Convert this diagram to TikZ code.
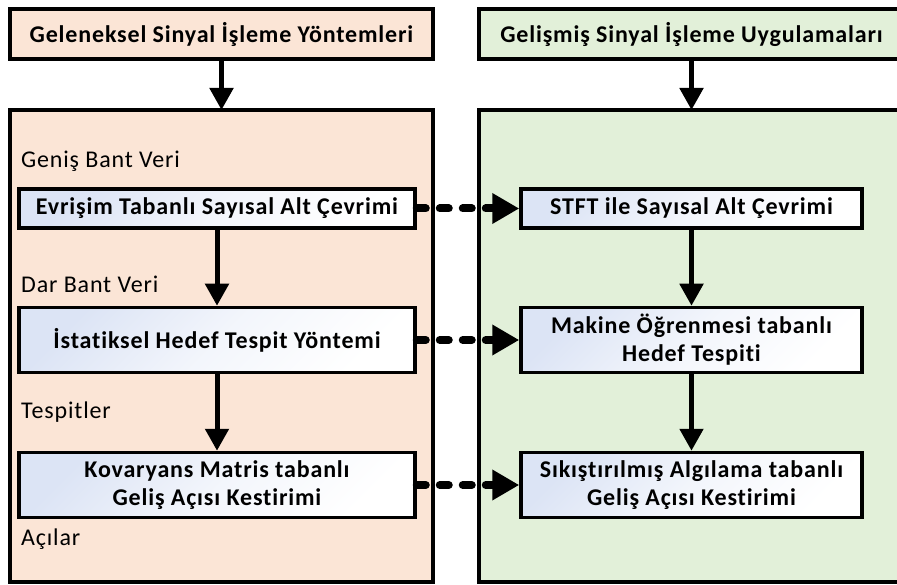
\documentclass[tikz,border=0pt]{standalone}
\usepackage{fontspec}
\setmainfont{Carlito}[LetterSpace=3.5, Ligatures=NoCommon]
\usetikzlibrary{arrows.meta}

\definecolor{peach}{RGB}{251,229,214}
\definecolor{sage}{RGB}{226,240,217}
\definecolor{paleblue}{RGB}{220,228,245}

\begin{document}
\begin{tikzpicture}[x=1pt,y=-1pt,
  panel/.style={draw, line width=3.3pt, inner sep=0pt, outer sep=0pt},
  header/.style={panel, font=\bfseries\fontsize{24}{28}\selectfont},
  stepbox/.style={draw, line width=3.5pt, top color=paleblue, bottom color=white,
    middle color=white!65!paleblue, shading angle=45, inner sep=0pt, align=center,
    font=\bfseries\fontsize{24}{28}\selectfont},
  tag/.style={anchor=base west, inner sep=0pt, font=\fontsize{24}{28}\selectfont},
  flow/.style={line width=5pt, -{Triangle[length=22pt,width=23pt]}},
  link/.style={line width=8pt, dash pattern=on 9pt off 14pt, line cap=round,
    -{Triangle[length=27pt,width=29pt]}}
]
\useasboundingbox (0,0) rectangle (897,585);
\clip (0,0) rectangle (897,585);

% column headers
\node[header, fill=peach, minimum width=423pt, minimum height=50pt] (hl) at (221.5,34) {Geleneksel Sinyal İşleme Yöntemleri};
\node[header, fill=sage, minimum width=425pt, minimum height=50pt] (hr) at (691.5,34) {Gelişmiş Sinyal İşleme Uygulamaları};

% column panels
\node[panel, fill=peach, minimum width=423pt, minimum height=472pt] (pl) at (221.5,346) {};
\node[panel, fill=sage, minimum width=425pt, minimum height=472pt] (pr) at (691.5,346) {};

\draw[flow] (hl.south) -- (pl.north);
\draw[flow] (hr.south) -- (pr.north);

% traditional chain
\node[stepbox, minimum width=396pt, minimum height=39pt] (a1) at (217,208.5) {Evrişim Tabanlı Sayısal Alt Çevrimi};
\node[stepbox, minimum width=396pt, minimum height=65pt] (a2) at (217,340) {İstatiksel Hedef Tespit Yöntemi};
\node[stepbox, minimum width=396pt, minimum height=65pt] (a3) at (217,485) {Kovaryans Matris tabanlı\\Geliş Açısı Kestirimi};

% advanced chain
\node[stepbox, minimum width=341pt, minimum height=39pt] (b1) at (691.5,208.5) {STFT ile Sayısal Alt Çevrimi};
\node[stepbox, minimum width=341pt, minimum height=65pt] (b2) at (691.5,340) {Makine Öğrenmesi tabanlı\\Hedef Tespiti};
\node[stepbox, minimum width=341pt, minimum height=65pt] (b3) at (691.5,485) {Sıkıştırılmış Algılama tabanlı\\Geliş Açısı Kestirimi};

% data labels
\node[tag] (t1) at (21,168) {Geniş Bant Veri};
\node[tag] (t2) at (21,293) {Dar Bant Veri};
\node[tag] (t3) at (21,418) {Tespitler};
\node[tag] (t4) at (21,545) {Açılar};

\draw[flow] (a1.south) -- (a2.north);
\draw[flow] (a2.south) -- (a3.north);
\draw[flow] (b1.south) -- (b2.north);
\draw[flow] (b2.south) -- (b3.north);

\draw[link] (a1.east) -- (b1.west);
\draw[link] (a2.east) -- (b2.west);
\draw[link] (a3.east) -- (b3.west);
\end{tikzpicture}
\end{document}
